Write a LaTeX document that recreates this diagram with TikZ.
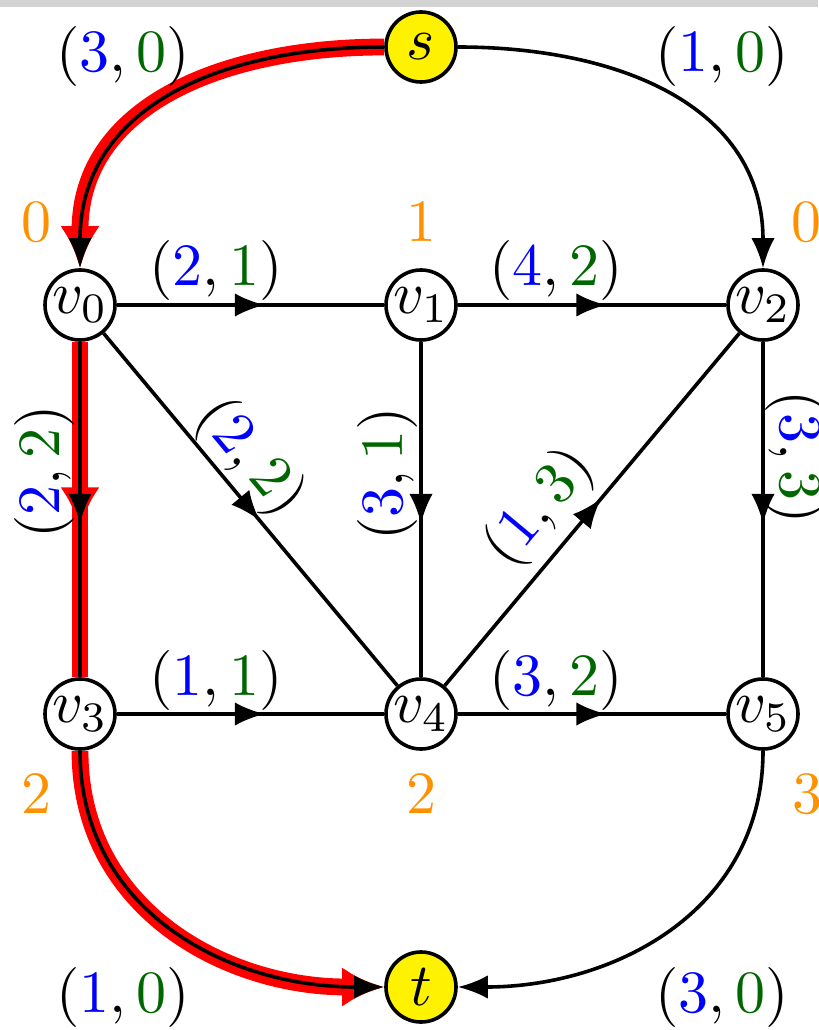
\documentclass[tikz,border=0pt]{standalone}
\usetikzlibrary{arrows.meta,decorations.markings}
\pgfdeclarelayer{bg}
\pgfsetlayers{bg,main}
\definecolor{capc}{RGB}{0,0,255}
\definecolor{flowc}{RGB}{0,102,0}
\definecolor{distc}{RGB}{255,145,0}
\definecolor{barc}{RGB}{211,211,211}
\newcommand{\cf}[2]{$(\textcolor{capc}{#1},\textcolor{flowc}{#2})$}
\begin{document}
\begin{tikzpicture}[x=0.16667pt,y=-0.16667pt,
  font=\fontsize{10}{12}\selectfont,
  vtx/.style={circle,draw,line width=0.6pt,minimum size=11.67pt,inner sep=0pt,fill=white},
  term/.style={vtx,fill=yellow},
  edg/.style={line width=0.6pt},
  hl/.style={line width=2.8pt,draw=red},
  blacktip/.style={-{Latex[length=5pt,width=3.9pt]}},
  redtip/.style={-{Latex[length=7pt,width=6.6pt]}},
  midarr/.style={postaction={decorate,decoration={markings,
     mark=at position 0.5 with {\arrow[xshift=2.4pt]{Latex[length=5pt,width=3.9pt]}}}}},
  midred/.style={postaction={decorate,decoration={markings,
     mark=at position 0.5 with {\arrow[xshift=3.3pt,red]{Latex[length=7pt,width=6.6pt]}}}}},
  lab/.style={inner sep=0pt},
  dist/.style={inner sep=0pt,text=distc}
]
\useasboundingbox (0,0) rectangle (818,1030);
\clip (0,0) rectangle (818,1030);
\fill[barc] (0,0) rectangle (818,7);

% nodes
\node[term] (s) at (421,47) {$s$};
\node[term] (t) at (421,987) {$t$};
\node[vtx] (v0) at (80,305) {$v_0$};
\node[vtx] (v1) at (421,305) {$v_1$};
\node[vtx] (v2) at (763,305) {$v_2$};
\node[vtx] (v3) at (80,714) {$v_3$};
\node[vtx] (v4) at (421,714) {$v_4$};
\node[vtx] (v5) at (763,714) {$v_5$};

\begin{pgfonlayer}{bg}
% highlighted path (red underlay)
\draw[hl,redtip] (s) to[out=180,in=90,looseness=1.1] (v0);
\draw[hl,midred] (v0) -- (v3);
\draw[hl,redtip] (v3) to[out=-90,in=180,looseness=1.05] (t);
% edges
\draw[edg,blacktip] (s) to[out=180,in=90,looseness=1.1] (v0);
\draw[edg,blacktip] (s) to[out=0,in=90,looseness=1.1] (v2);
\draw[edg,midarr] (v0) -- (v3);
\draw[edg,midarr] (v0) -- (v1);
\draw[edg,midarr] (v1) -- (v2);
\draw[edg,midarr] (v0) -- (v4);
\draw[edg,midarr] (v1) -- (v4);
\draw[edg,midarr] (v4) -- (v2);
\draw[edg,midarr] (v2) -- (v5);
\draw[edg,midarr] (v3) -- (v4);
\draw[edg,midarr] (v4) -- (v5);
\draw[edg,blacktip] (v3) to[out=-90,in=180,looseness=1.05] (t);
\draw[edg,blacktip] (v5) to[out=-90,in=0,looseness=1.05] (t);
\end{pgfonlayer}

% capacity / flow labels
\node[lab] (l1) at (123,57) {\cf{3}{0}};
\node[lab] (l2) at (722,57) {\cf{1}{0}};
\node[lab] (l3) at (216,270) {\cf{2}{1}};
\node[lab] (l4) at (556,270) {\cf{4}{2}};
\node[lab] (l5) at (216,680) {\cf{1}{1}};
\node[lab] (l6) at (556,680) {\cf{3}{2}};
\node[lab] (l7) at (123,997) {\cf{1}{0}};
\node[lab] (l8) at (722,997) {\cf{3}{0}};
\node[lab,rotate=90] (l9) at (44,472) {\cf{2}{2}};
\node[lab,rotate=90] (l10) at (387,474) {\cf{3}{1}};
\node[lab,rotate=-90] (l11) at (795,457) {\cf{3}{3}};
\node[lab,rotate=-50.2] (l12) at (250,458) {\cf{2}{2}};
\node[lab,rotate=50.1] (l13) at (540,508) {\cf{1}{3}};

% distance labels
\node[dist] (d0) at (37,222) {0};
\node[dist] (d1) at (421,222) {1};
\node[dist] (d2) at (806,222) {0};
\node[dist] (d3) at (37,794) {2};
\node[dist] (d4) at (421,794) {2};
\node[dist] (d5) at (807,794) {3};
\end{tikzpicture}
\end{document}
